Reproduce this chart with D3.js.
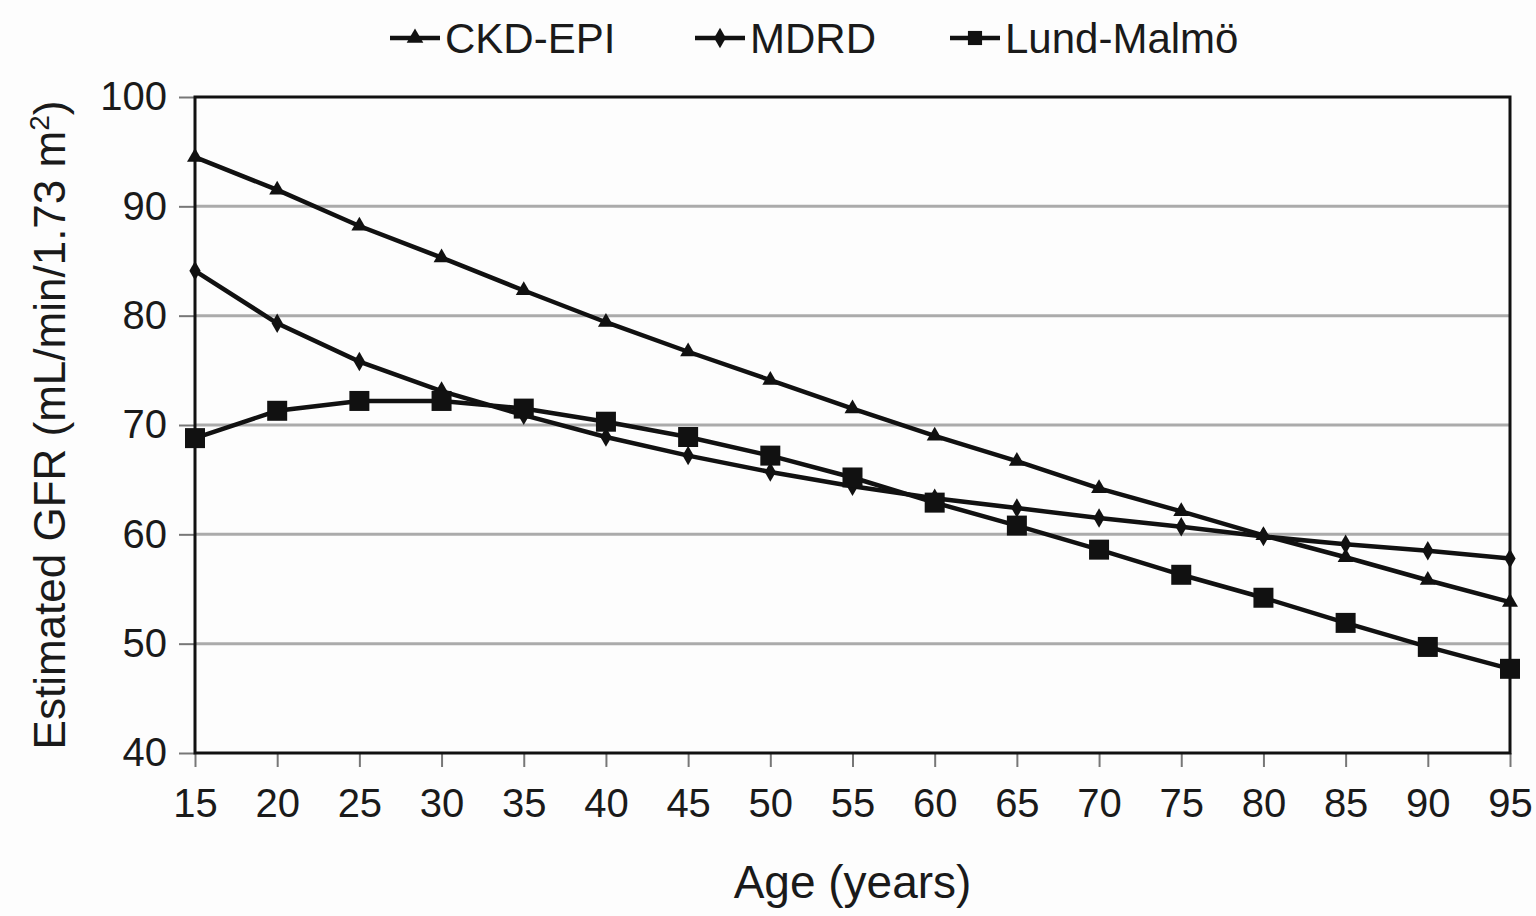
<!DOCTYPE html>
<html>
<head>
<meta charset="utf-8">
<script src="https://cdn.jsdelivr.net/npm/d3@7"></script>
<style>
  body { margin: 0; background: #fdfdfd; }
  svg text { font-family: "Liberation Sans", Arial, sans-serif; fill: #1a1a1a; }
</style>
</head>
<body>
<div id="chart"></div>
<script>
const ages = [15, 20, 25, 30, 35, 40, 45, 50, 55, 60, 65, 70, 75, 80, 85, 90, 95];
const ckdEpi = [94.5, 91.5, 88.2, 85.3, 82.3, 79.4, 76.7, 74.1, 71.5, 69.0, 66.7, 64.2, 62.1, 59.9, 57.9, 55.8, 53.8];
const mdrd = [84.1, 79.3, 75.8, 73.1, 70.9, 68.9, 67.2, 65.7, 64.4, 63.3, 62.4, 61.5, 60.7, 59.8, 59.1, 58.5, 57.8];
const lundMalmo = [68.8, 71.3, 72.2, 72.2, 71.5, 70.3, 68.9, 67.2, 65.2, 62.9, 60.8, 58.6, 56.3, 54.2, 51.9, 49.7, 47.7];
const yTicks = [40, 50, 60, 70, 80, 90, 100];
const seriesNames = ["CKD-EPI", "MDRD", "Lund-Malmö"];

const W = 1536, H = 916;
const M = { LEFT: 195, RIGHT: 26, TOP: 97, BOTTOM: 163 };
const innerW = W - M.LEFT - M.RIGHT;
const innerH = H - M.TOP - M.BOTTOM;

const svg = d3.select("#chart").append("svg")
    .attr("width", W)
    .attr("height", H);

const g = svg.append("g").attr("transform", `translate(${M.LEFT},${M.TOP})`);

const x = d3.scaleLinear().domain([15, 95]).range([0, innerW]);
const y = d3.scaleLinear().domain([40, 100]).range([innerH, 0]);

// grid lines
g.selectAll(".grid").data(yTicks.slice(1, -1)).join("line")
    .attr("x1", 0).attr("x2", innerW)
    .attr("y1", d => y(d)).attr("y2", d => y(d))
    .attr("stroke", "#ababab").attr("stroke-width", 3);

// axes
const xAxis = g.append("g").attr("transform", `translate(0,${innerH})`)
    .call(d3.axisBottom(x).tickValues(ages).tickSize(14).tickPadding(20));
const yAxis = g.append("g")
    .call(d3.axisLeft(y).tickValues(yTicks).tickSize(16).tickPadding(12));

[xAxis, yAxis].forEach(a => {
    a.select(".domain").remove();
    a.selectAll(".tick line").attr("stroke", "#777").attr("stroke-width", 2);
    a.selectAll("text").style("font-size", "40px").attr("fill", "#1a1a1a");
});
xAxis.selectAll("text").attr("dy", "0.75em");

// frame
g.append("rect")
    .attr("x", 0).attr("y", 0)
    .attr("width", innerW).attr("height", innerH)
    .attr("fill", "none").attr("stroke", "#111").attr("stroke-width", 3);

const series = [
    { name: seriesNames[0], values: ckdEpi, marker: "triangle", size: 110 },
    { name: seriesNames[1], values: mdrd, marker: "diamond", size: 110 },
    { name: seriesNames[2], values: lundMalmo, marker: "square", size: 400 }
];
const symbolType = { triangle: d3.symbolTriangle, diamond: d3.symbolDiamond, square: d3.symbolSquare };

const line = d3.line().x((d, i) => x(ages[i])).y(d => y(d));

series.forEach(s => {
    g.append("path")
        .datum(s.values)
        .attr("fill", "none")
        .attr("stroke", "#111")
        .attr("stroke-width", 4.5)
        .attr("d", line);

    g.selectAll(null).data(s.values).join("path")
        .attr("transform", (d, i) => `translate(${x(ages[i])},${y(d)})`)
        .attr("d", d3.symbol().type(symbolType[s.marker]).size(s.size))
        .attr("fill", "#111");
});

// legend
const legendX = [390, 695, 950];
const legend = svg.append("g");
series.forEach((s, i) => {
    const lg = legend.append("g").attr("transform", `translate(${legendX[i]},38)`);
    lg.append("line").attr("x1", 0).attr("x2", 50).attr("y1", 0).attr("y2", 0)
        .attr("stroke", "#111").attr("stroke-width", 4.5);
    lg.append("path").attr("transform", "translate(25,0)")
        .attr("d", d3.symbol().type(symbolType[s.marker]).size(s.marker === "square" ? 200 : 120))
        .attr("fill", "#111");
    lg.append("text").attr("x", 55).attr("y", 0).attr("dy", "0.35em")
        .style("font-size", "42px").text(s.name);
});

// axis titles
svg.append("text")
    .attr("x", M.LEFT + innerW / 2).attr("y", 898)
    .attr("text-anchor", "middle")
    .style("font-size", "46px")
    .text("Age (years)");

svg.append("text")
    .attr("transform", `translate(65,${M.TOP + innerH / 2}) rotate(-90)`)
    .attr("text-anchor", "middle")
    .style("font-size", "44px")
    .html('Estimated GFR (mL/min/1.73 m<tspan dy="-16" style="font-size:28px">2</tspan><tspan dy="16">)</tspan>');
</script>
</body>
</html>
